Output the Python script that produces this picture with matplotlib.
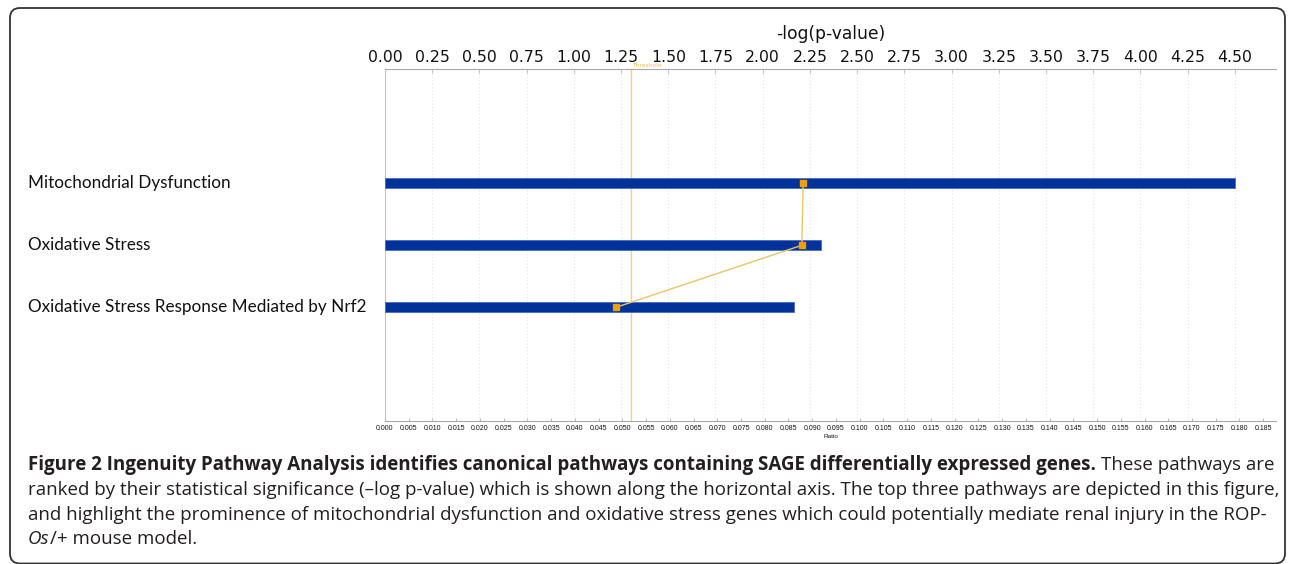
import matplotlib
matplotlib.use("Agg")
import matplotlib.pyplot as plt
from matplotlib.patches import FancyBboxPatch
from matplotlib.transforms import blended_transform_factory, IdentityTransform

# ---------------- data ----------------
pathways = ["Mitochondrial Dysfunction", "Oxidative Stress",
            "Oxidative Stress Response Mediated by Nrf2"]
neg_log_p = [4.50, 2.31, 2.165]
ratio = [0.0881, 0.0878, 0.0487]
threshold = 1.30
top_ticks = [0.00, 0.25, 0.50, 0.75, 1.00, 1.25, 1.50, 1.75, 2.00, 2.25,
             2.50, 2.75, 3.00, 3.25, 3.50, 3.75, 4.00, 4.25, 4.50]
bottom_ticks = [0.000, 0.005, 0.010, 0.015, 0.020, 0.025, 0.030, 0.035,
                0.040, 0.045, 0.050, 0.055, 0.060, 0.065, 0.070, 0.075,
                0.080, 0.085, 0.090, 0.095, 0.100, 0.105, 0.110, 0.115,
                0.120, 0.125, 0.130, 0.135, 0.140, 0.145, 0.150, 0.155,
                0.160, 0.165, 0.170, 0.175, 0.180, 0.185]
top_title = "-log(p-value)"
bottom_title = "Ratio"
caption_lines = [
    [("Figure 2 Ingenuity Pathway Analysis identifies canonical pathways containing SAGE differentially expressed genes.", "bold"),
     ("These pathways are", "normal")],
    [("ranked by their statistical significance (\u2013log p-value) which is shown along the horizontal axis. The top three pathways are depicted in this figure,", "normal")],
    [("and highlight the prominence of mitochondrial dysfunction and oxidative stress genes which could potentially mediate renal injury in the ROP-", "normal")],
    [("Os", "italic"), ("/+ mouse model.", "normal_nospace")],
]

# ---------------- layout ----------------
W, H = 1292, 564
fig = plt.figure(figsize=(W / 100, H / 100), dpi=100)
fig.patch.set_facecolor("white")

ax_left, ax_right, ax_top, ax_bottom = 385, 1276, 69.3, 420.5
ax = fig.add_axes([ax_left / W, 1 - ax_bottom / H,
                   (ax_right - ax_left) / W, (ax_bottom - ax_top) / H])
ax2 = ax.twiny()

ypos = list(range(len(pathways)))
ax.barh(ypos, neg_log_p, height=0.16, color="#003399",
        edgecolor="#4a6cc0", linewidth=0.6, zorder=3)
ax.set_xlim(0, 4.718)
ax.set_ylim(3.826, -1.839)
ax.xaxis.tick_top()
ax.xaxis.set_label_position("top")
ax.set_xticks(top_ticks)
ax.set_xticklabels([f"{t:.2f}" for t in top_ticks], fontsize=11.3,
                   family="DejaVu Sans", color="#111111")
ax.tick_params(axis="x", which="both", top=True, bottom=False, labeltop=True,
               labelbottom=False, direction="in", length=3, color="#c8c8c8", pad=3)
ax.set_yticks([])
ax.grid(axis="x", color="#e4e4e4", linestyle=(0, (1, 2)), linewidth=0.8, zorder=0)
for s in ["right", "bottom"]:
    ax.spines[s].set_visible(False)
ax.spines["top"].set_color("#a8a8a8")
ax.spines["left"].set_color("#c4c4c4")

ax.axvline(threshold, color="#f2d08c", lw=1.0, zorder=2)
ax.text(threshold + 0.01, 1.003, "Threshold",
        transform=blended_transform_factory(ax.transData, ax.transAxes),
        fontsize=4.3, color="#e8c040", va="bottom", ha="left")

fig.text((ax_left + ax_right) / 2 / W, 1 - 34 / H, top_title, fontsize=12.3,
         family="DejaVu Sans", ha="center", va="center", color="#111111")

# ratio axis (bottom)
ax2.set_xlim(0, 0.1877)
ax2.set_xticks(bottom_ticks)
ax2.set_xticklabels([f"{t:.3f}" for t in bottom_ticks], fontsize=5.0,
                    family="Liberation Sans", color="#111111")
ax2.tick_params(axis="x", which="both", top=False, bottom=True, labeltop=False,
                labelbottom=True, direction="in", length=2, color="#c0c0c0", pad=3)
ax2.xaxis.set_label_position("bottom")
ax2.set_xlabel(bottom_title, fontsize=4.6, family="Liberation Sans", labelpad=1.5,
               color="#111111")
for s in ["top", "left", "right"]:
    ax2.spines[s].set_visible(False)
ax2.spines["bottom"].set_visible(True)
ax2.spines["bottom"].set_color("#a8a8a8")
ax2.plot(ratio, ypos, color="#e9c56a", lw=1.0, marker="s", ms=4,
         mfc="#f5a000", mec="#f0a000", zorder=5)

# category labels, left aligned at the figure margin
fig.canvas.draw()
renderer = fig.canvas.get_renderer()

probe = fig.text(0, 0, pathways[0], fontsize=10, family="Lato")
pw = probe.get_window_extent(renderer).width
probe.remove()
cat_fs = 10 * 203 / pw
tr = blended_transform_factory(fig.transFigure, ax.transData)
for y, name in zip(ypos, pathways):
    ax.text(28 / W, y, name, transform=tr, fontsize=cat_fs, family="Lato",
            ha="left", va="center", color="#111111", clip_on=False)

# caption
cap_font = "Open Sans"
probe = fig.text(0, 0, caption_lines[1][0][0], fontsize=10, family=cap_font)
lw = probe.get_window_extent(renderer).width
probe.remove()
cap_fs = 10 * 1251 / lw
p1 = fig.text(0, 0, "a a", fontsize=cap_fs, family=cap_font)
p2 = fig.text(0, 0, "aa", fontsize=cap_fs, family=cap_font)
space_w = p1.get_window_extent(renderer).width - p2.get_window_extent(renderer).width
p1.remove(); p2.remove()

line_y = [465, 490, 514.5, 539]
for runs, yy in zip(caption_lines, line_y):
    x = 28
    for i, (txt, style) in enumerate(runs):
        kw = dict(fontsize=cap_fs, family=cap_font, ha="left", va="baseline",
                  color="#231f20")
        if style == "bold":
            kw["fontweight"] = "bold"
        if style == "italic":
            kw["style"] = "italic"
        if i > 0 and style != "normal_nospace":
            x += space_w
        t = fig.text(x / W, 1 - (yy + 5) / H, txt, **kw)
        x += t.get_window_extent(renderer).width

# rounded frame
frame = FancyBboxPatch((10, 0.5), 1275, 555.5,
                       boxstyle="round,pad=0,rounding_size=10",
                       transform=IdentityTransform(), fill=False,
                       ec="#333333", lw=1.3)
fig.patches.append(frame)

fig.savefig("out.png", dpi=100)
